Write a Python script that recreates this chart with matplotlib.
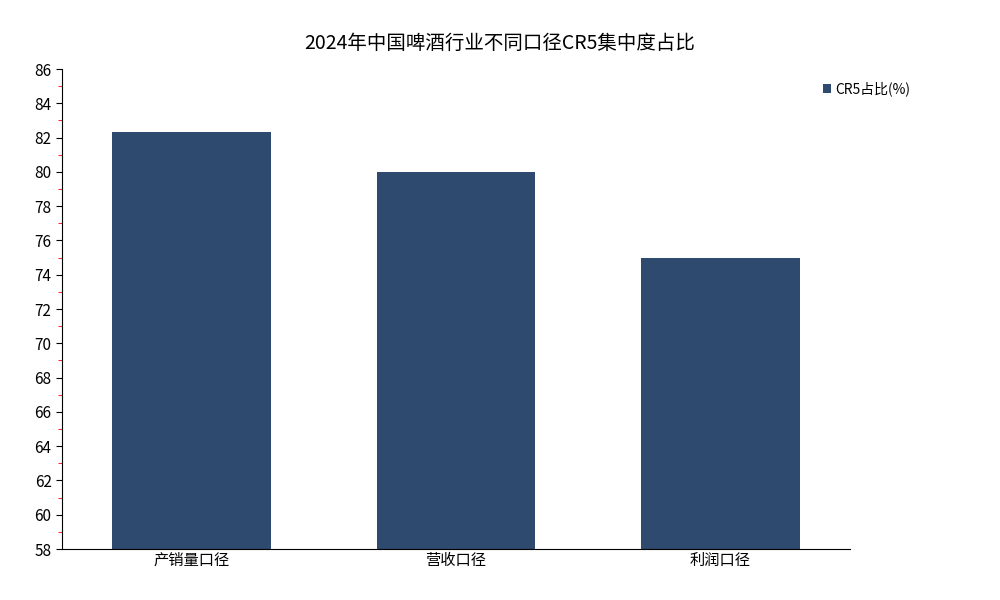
import matplotlib
matplotlib.use("Agg")
import matplotlib.pyplot as plt
from matplotlib.ticker import MultipleLocator

plt.rcParams['font.family'] = ['Noto Sans CJK SC', 'DejaVu Sans']

categories = ["产销量口径", "营收口径", "利润口径"]
values = [82.3, 80.0, 75.0]
series_name = "CR5占比(%)"
title = "2024年中国啤酒行业不同口径CR5集中度占比"

fig = plt.figure(figsize=(10, 6), dpi=100)
ax = fig.add_axes([0.062, 0.085, 0.788, 0.8])
ax.bar(range(len(categories)), values, width=0.6, color="#2e4a6e", label=series_name)
ax.set_xlim(-0.49, 2.49)
ax.set_ylim(58, 86)
ax.yaxis.set_major_locator(MultipleLocator(2))
ax.yaxis.set_minor_locator(MultipleLocator(1))
ax.tick_params(axis="y", which="minor", length=3, color="red")
ax.tick_params(axis="y", which="major", length=4, labelsize=11)
ax.set_xticks(range(len(categories)))
ax.set_xticklabels(categories, fontsize=11)
ax.tick_params(axis="x", length=0, pad=2)
for s in ["top", "right"]:
    ax.spines[s].set_visible(False)
fig.suptitle(title, x=0.5, y=0.945, fontsize=14)
fig.legend(loc="upper left", bbox_to_anchor=(0.81, 0.885), frameon=False,
           fontsize=10, handlelength=0.6, handleheight=0.6, handletextpad=0.3)
fig.savefig("out.png", dpi=100)
